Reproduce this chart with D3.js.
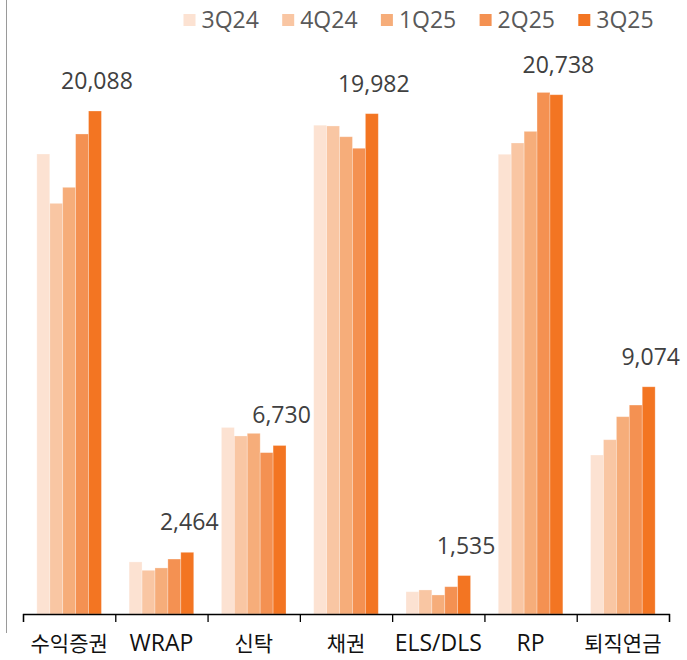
<!DOCTYPE html>
<html>
<head>
<meta charset="utf-8">
<script src="https://cdn.jsdelivr.net/npm/d3@7"></script>
<style>
  body { margin: 0; background: #fff; }
  svg { display: block; font-family: "Open Sans", "Noto Sans CJK KR", sans-serif; }
</style>
</head>
<body>
<div id="chart"></div>
<script>
const categories = ['수익증권', 'WRAP', '신탁', '채권', 'ELS/DLS', 'RP', '퇴직연금'];
const seriesNames = ['3Q24', '4Q24', '1Q25', '2Q25', '3Q25'];
const seriesColors = ['#fce2d2', '#f9c6a3', '#f6ad7a', '#f49152', '#f37522'];

// values per series, in category order
const q3_24 = [18370, 2080, 7450, 19520, 890, 18360, 6350];
const q4_24 = [16400, 1745, 7110, 19490, 960, 18810, 6960];
const q1_25 = [17040, 1840, 7215, 19060, 760, 19275, 7880];
const q2_25 = [19170, 2195, 6445, 18600, 1090, 20830, 8345];
const q3_25 = [20088, 2464, 6730, 19982, 1535, 20738, 9074];
const labelValues = ['20,088', '2,464', '6,730', '19,982', '1,535', '20,738', '9,074'];

const series = [q3_24, q4_24, q1_25, q2_25, q3_25];

function createBarChart() {
    const W = 687, H = 660;
    const baseY = 614;
    const left = 23, right = 669;

    const svg = d3.select('#chart').append('svg')
        .attr('width', W)
        .attr('height', H);

    const x = d3.scaleBand()
        .domain(categories)
        .range([left, right])
        .paddingInner(0.3)
        .paddingOuter(0.15);

    const xInner = d3.scaleBand()
        .domain(seriesNames)
        .range([0, x.bandwidth()])
        .padding(0);

    const y = d3.scaleLinear()
        .domain([0, 24000])
        .range([baseY, baseY - 24000 * 0.02504]);

    // left frame line
    svg.append('line')
        .attr('x1', 6.5).attr('x2', 6.5)
        .attr('y1', 0).attr('y2', 633)
        .attr('stroke', '#9a9a9a')
        .attr('stroke-width', 1);

    // bars
    const groups = svg.selectAll('.cat')
        .data(categories)
        .enter().append('g')
        .attr('class', 'cat')
        .attr('transform', d => `translate(${x(d)},0)`);

    groups.selectAll('rect')
        .data((d, i) => seriesNames.map((s, j) => ({ s, j, v: series[j][i] })))
        .enter().append('rect')
        .attr('x', d => xInner(d.s))
        .attr('y', d => y(d.v))
        .attr('width', xInner.bandwidth())
        .attr('height', d => baseY - y(d.v))
        .attr('fill', d => seriesColors[d.j])
        .attr('stroke', '#ffffff')
        .attr('stroke-opacity', 0.35)
        .attr('stroke-width', 0.8);

    // value labels above the last series
    groups.append('text')
        .attr('x', xInner('3Q25') + xInner.bandwidth() / 2 + 2)
        .attr('y', (d, i) => y(q3_25[i]) - 22)
        .attr('text-anchor', 'middle')
        .attr('fill', '#404040')
        .style('font-size', '23px')
        .text((d, i) => labelValues[i]);

    // x axis with ticks on category boundaries
    const bounds = d3.scaleLinear().domain([0, categories.length]).range([left, right]);
    const axis = svg.append('g')
        .attr('transform', `translate(0,${baseY})`)
        .call(d3.axisBottom(bounds)
            .tickValues(d3.range(categories.length + 1))
            .tickSize(8)
            .tickSizeOuter(8)
            .tickFormat(''));
    axis.select('.domain').attr('stroke', '#000').attr('stroke-width', 1.3);
    axis.selectAll('.tick line').attr('stroke', '#000').attr('stroke-width', 1.3);

    const isKorean = s => /[\uac00-\ud7a3]/.test(s);
    svg.append('g').selectAll('text')
        .data(categories)
        .enter().append('text')
        .attr('x', d => x(d) + x.bandwidth() / 2)
        .attr('y', 651)
        .attr('text-anchor', 'middle')
        .attr('fill', '#111')
        .style('font-family', d => isKorean(d) ? '"Noto Sans CJK KR", sans-serif' : null)
        .style('font-size', d => isKorean(d) ? '21px' : '23px')
        .text(d => d);

    // legend
    const legend = svg.append('g').selectAll('g')
        .data(seriesNames)
        .enter().append('g')
        .attr('transform', (d, i) => `translate(${183.5 + i * 98.7},14)`);
    legend.append('rect')
        .attr('width', 12).attr('height', 12)
        .attr('fill', (d, i) => seriesColors[i]);
    legend.append('text')
        .attr('x', 18)
        .attr('y', 13.5)
        .attr('fill', '#595959')
        .style('font-size', '23px')
        .text(d => d);
}

createBarChart();
</script>
</body>
</html>
